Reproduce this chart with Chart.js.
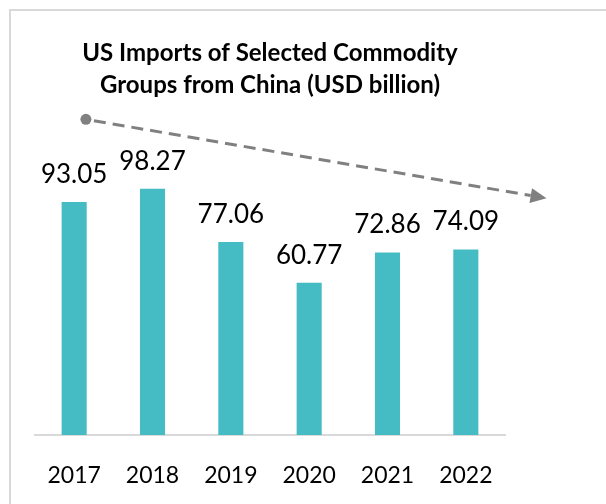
<!DOCTYPE html>
<html>
<head>
<meta charset="utf-8">
<script src="https://cdn.jsdelivr.net/npm/chart.js@4.4.1/dist/chart.umd.min.js"></script>
<style>
    body { margin: 0; background: #fff; overflow: hidden; }
    #frame { position: absolute; left: 9px; top: 9px; width: 700px; height: 600px; border: 2px solid #d9d9d9; }
    #wrap { position: absolute; left: 0; top: 0; width: 606px; height: 504px; }
</style>
</head>
<body>
<div id="frame"></div>
<div id="wrap"><canvas id="chart"></canvas></div>
<script>
// datos del grafico
const years = ['2017', '2018', '2019', '2020', '2021', '2022'];
const imports = [93.05, 98.27, 77.06, 60.77, 72.86, 74.09];
// flecha de tendencia: [indice categoria, valor]
const trendStart = [0.15, 126];
const trendEnd = [6.03, 94.5];

const FONT = 'Lato, "Open Sans", sans-serif';

// etiquetas de valor sobre cada barra
const valueLabels = {
    id: 'valueLabels',
    afterDatasetsDraw(chart) {
        const ctx = chart.ctx;
        const meta = chart.getDatasetMeta(0);
        ctx.save();
        ctx.font = '26px ' + FONT;
        ctx.fillStyle = '#000';
        ctx.textAlign = 'center';
        ctx.textBaseline = 'alphabetic';
        meta.data.forEach((bar, i) => {
            ctx.fillText(imports[i].toFixed(2), bar.x, bar.y - 19);
        });
        ctx.restore();
    }
};

// flecha discontinua con punto inicial
const trendArrow = {
    id: 'trendArrow',
    afterDraw(chart) {
        const ctx = chart.ctx;
        const x = chart.scales.x, y = chart.scales.y;
        const x0 = x.getPixelForValue(trendStart[0]), y0 = y.getPixelForValue(trendStart[1]);
        const x1 = x.getPixelForValue(trendEnd[0]), y1 = y.getPixelForValue(trendEnd[1]);
        const ang = Math.atan2(y1 - y0, x1 - x0);
        const headLen = 16, headW = 7.5;
        const bx = x1 - headLen * Math.cos(ang), by = y1 - headLen * Math.sin(ang);

        ctx.save();
        ctx.strokeStyle = '#808080';
        ctx.fillStyle = '#808080';
        ctx.lineWidth = 3;
        ctx.setLineDash([12, 7]);
        ctx.beginPath();
        ctx.moveTo(x0 + 8, y0 + 8 * Math.sin(ang));
        ctx.lineTo(bx, by);
        ctx.stroke();
        ctx.setLineDash([]);

        ctx.beginPath();
        ctx.arc(x0, y0, 5.5, 0, Math.PI * 2);
        ctx.fill();

        ctx.beginPath();
        ctx.moveTo(x1, y1);
        ctx.lineTo(bx - headW * Math.sin(ang), by + headW * Math.cos(ang));
        ctx.lineTo(bx + headW * Math.sin(ang), by - headW * Math.cos(ang));
        ctx.closePath();
        ctx.fill();
        ctx.restore();
    }
};

const ctx = document.getElementById('chart').getContext('2d');
new Chart(ctx, {
    type: 'bar',
    data: {
        labels: years,
        datasets: [{
            data: imports,
            backgroundColor: '#45bbc4',
            categoryPercentage: 1,
            barPercentage: 0.32
        }]
    },
    options: {
        responsive: true,
        maintainAspectRatio: false,
        animation: false,
        layout: { padding: { left: 35, right: 101, top: 0, bottom: 0 } },
        scales: {
            x: {
                grid: { display: false, drawTicks: false },
                border: { display: true, color: '#d9d9d9', width: 2 },
                ticks: { color: '#000', padding: 27, font: { family: FONT, size: 23 } },
                afterFit: (scale) => { scale.height = 69; }
            },
            y: {
                display: false,
                min: 0,
                max: 120
            }
        },
        plugins: {
            legend: { display: false },
            tooltip: { enabled: false },
            title: {
                display: true,
                text: ['US Imports of Selected Commodity', 'Groups from China (USD billion)'],
                color: '#000',
                font: { family: FONT, size: 24, weight: 'bold', lineHeight: 1.3 },
                padding: { top: 38, bottom: 34 }
            }
        }
    },
    plugins: [valueLabels, trendArrow]
});
</script>
</body>
</html>
